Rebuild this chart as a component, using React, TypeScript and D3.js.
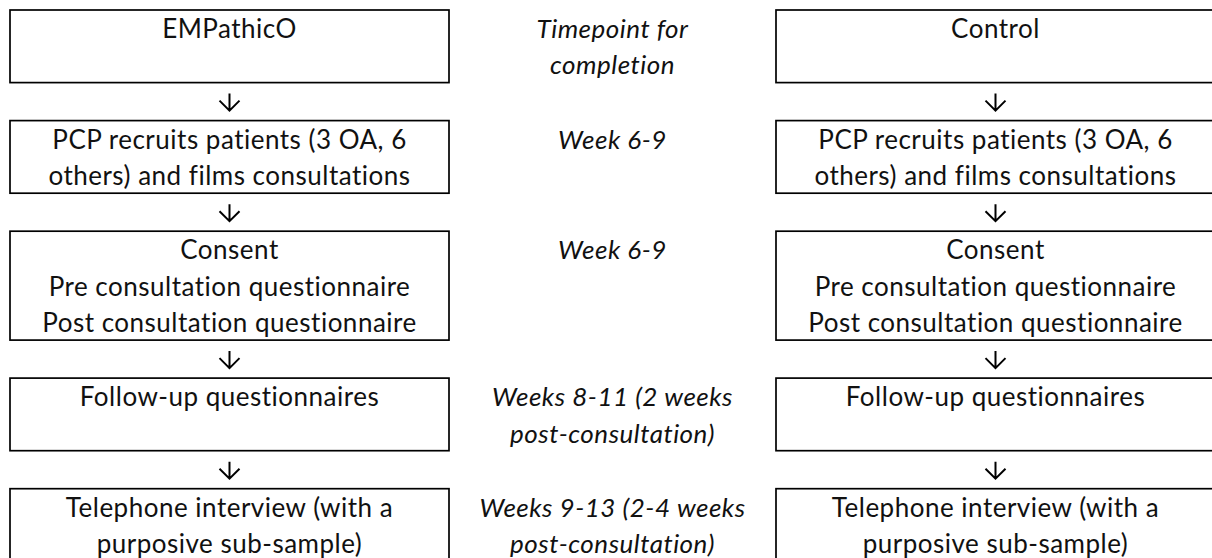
import { useEffect, useRef } from 'react'
import * as d3 from 'd3'

// step text, one array of lines per row
const empathicoSteps = [
  ['EMPathicO'],
  ['PCP recruits patients (3 OA, 6', 'others) and films consultations'],
  ['Consent', 'Pre consultation questionnaire', 'Post consultation questionnaire'],
  ['Follow-up questionnaires'],
  ['Telephone interview (with a', 'purposive sub-sample)'],
]

const controlSteps = [
  ['Control'],
  ['PCP recruits patients (3 OA, 6', 'others) and films consultations'],
  ['Consent', 'Pre consultation questionnaire', 'Post consultation questionnaire'],
  ['Follow-up questionnaires'],
  ['Telephone interview (with a', 'purposive sub-sample)'],
]

const timepoints = [
  ['Timepoint for', 'completion'],
  ['Week 6-9'],
  ['Week 6-9'],
  ['Weeks 8-11 (2 weeks', 'post-consultation)'],
  ['Weeks 9-13 (2-4 weeks', 'post-consultation)'],
]

const columns = ['empathico', 'timepoint', 'control']

export default function App() {
  const svgRef = useRef<SVGSVGElement>(null)

  useEffect(() => {
    if (!svgRef.current) return
    const W = 1212
    const H = 558
    const lineH = 36.3
    const gapH = 38
    const top = 10

    const svg = d3.select(svgRef.current)
    svg.selectAll('*').remove()

    // column bands: boxes are 439 wide, middle column 327
    const x = d3.scaleOrdinal<string, [number, number]>()
      .domain(columns)
      .range([[10, 449], [449, 776], [776, 1215]])

    // row layout from line counts (every row is at least 2 lines tall)
    let cursor = top
    const layout = empathicoSteps.map((_, i) => {
      const lines = Math.max(empathicoSteps[i].length, controlSteps[i].length, timepoints[i].length, 2)
      const y0 = cursor
      const h = lines * lineH
      cursor += h + gapH
      return { i, lines, y0, h }
    })

    const font = 'Lato, "Open Sans", sans-serif'
    const fontSize = 26

    const g = svg.append('g')

    const drawCol = (key: string, steps: string[][], boxed: boolean, italic: boolean) => {
      const [x0, x1] = x(key)
      const cx = (x0 + x1) / 2
      layout.forEach((row, i) => {
        if (boxed) {
          g.append('rect')
            .attr('x', x0)
            .attr('y', row.y0)
            .attr('width', x1 - x0)
            .attr('height', row.h)
            .attr('fill', 'none')
            .attr('stroke', '#000')
            .attr('stroke-width', 1.7)
        }
        const t = g.append('text')
          .attr('text-anchor', 'middle')
          .attr('font-family', font)
          .attr('font-size', fontSize)
          .attr('letter-spacing', 0.5)
          .attr('font-style', italic ? 'italic' : 'normal')
          .attr('fill', '#111')
        steps[i].forEach((line, j) => {
          t.append('tspan')
            .attr('x', cx)
            .attr('y', row.y0 + lineH / 2 + j * lineH)
            .attr('dominant-baseline', 'central')
            .text(line)
        })
        // down arrow in the gap below each box
        if (boxed && i < layout.length - 1) {
          const ay = row.y0 + row.h + gapH / 2
          g.append('path')
            .attr('d', `M${cx},${ay - 8} L${cx},${ay + 9} M${cx - 10},${ay - 1} L${cx},${ay + 9} L${cx + 10},${ay - 1}`)
            .attr('fill', 'none')
            .attr('stroke', '#000')
            .attr('stroke-width', 2)
        }
      })
    }

    drawCol('empathico', empathicoSteps, true, false)
    drawCol('timepoint', timepoints, false, true)
    drawCol('control', controlSteps, true, false)

    svg.attr('width', W).attr('height', H)
  }, [])

  return (
    <svg
      ref={svgRef}
      width={1212}
      height={558}
      style={{ position: 'absolute', left: 0, top: 0, background: '#fff', display: 'block' }}
    />
  )
}
